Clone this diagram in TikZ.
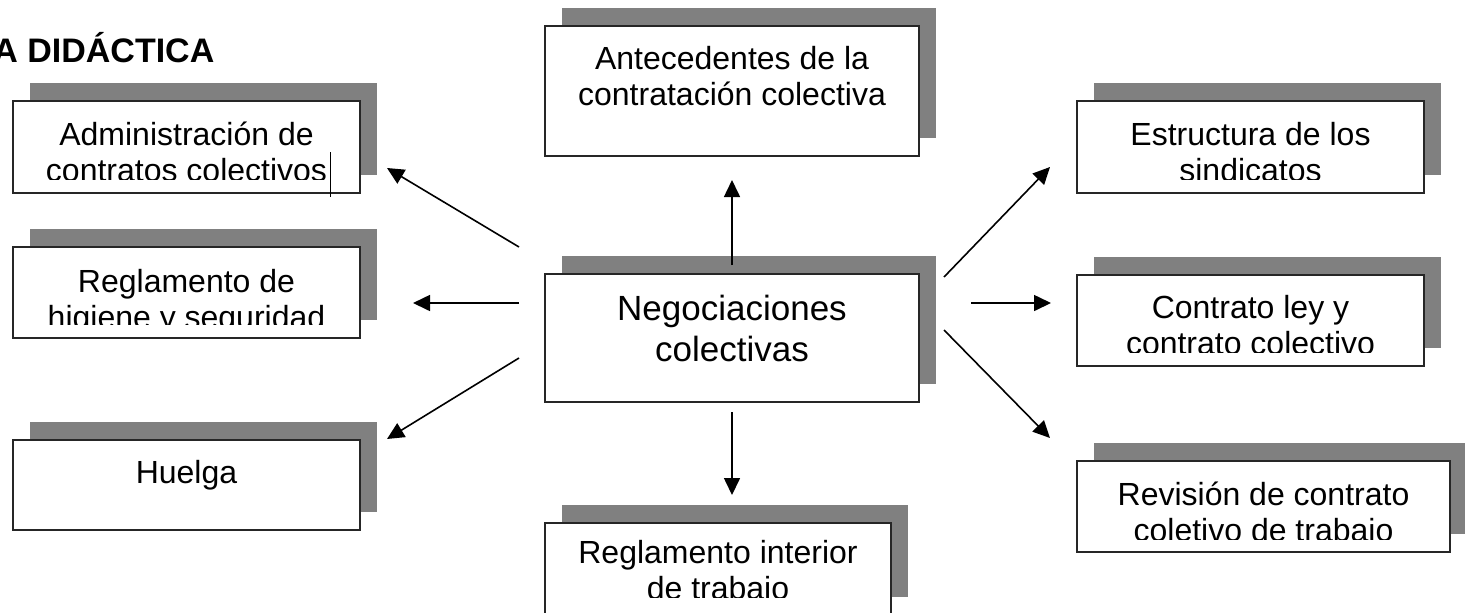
\documentclass[tikz,border=0pt]{standalone}
\usepackage{fontspec}
\setmainfont{Liberation Sans}
\usetikzlibrary{arrows.meta}
\definecolor{shadowgray}{RGB}{128,128,128}
\tikzset{
  boxframe/.style={draw=black!85, line width=0.7pt, fill=white, inner sep=0pt, outer sep=0pt, anchor=north west},
  boxshadow/.style={fill=shadowgray},
  boxtext/.style={inner sep=0pt, align=center, anchor=base, font=\fontsize{16}{18}\selectfont},
  bigtext/.style={inner sep=0pt, align=center, anchor=base, font=\fontsize{17.5}{20.5}\selectfont},
  arr/.style={-{Triangle[length=8.5pt,width=8pt]}, line width=0.8pt, black},
}
% #6 = baseline of the last text line, #7 = lower edge of the visible text
\newcommand{\shbox}[9]{%
  \fill[boxshadow] (#2+17,#3-18) rectangle (#2+#4+17,#3+#5-18);
  \node[boxframe, minimum width=#4*0.5pt, minimum height=#5*0.5pt] (#1) at (#2,#3) {};
  \begin{scope}
    \clip (#2,#3) rectangle (#2+#4,#7);
    \node[#9] (#1-text) at (#2+#4/2,#6) {#8};
  \end{scope}}
\begin{document}
\begin{tikzpicture}[x=0.5pt,y=-0.5pt]
\useasboundingbox (0,0) rectangle (1465,612);
\clip (0,0) rectangle (1465,612);
\node[anchor=base west, inner sep=0pt, font=\bfseries\fontsize{17}{20}\selectfont] (title) at (-7,62) {A DIDÁCTICA};
\shbox{adm}{13}{101}{347}{92}{181}{179}{Administración de\\contratos colectivos}{boxtext}
\shbox{hig}{13}{247}{347}{91}{328}{324}{Reglamento de\\higiene y seguridad}{boxtext}
\shbox{hue}{13}{440}{347}{90}{483}{530}{Huelga}{boxtext}
\shbox{ant}{545}{26}{374}{130}{105}{156}{Antecedentes de la\\contratación colectiva}{boxtext}
\shbox{neg}{545}{274}{374}{128}{361}{402}{Negociaciones\\colectivas}{bigtext}
\shbox{int}{545}{523}{346}{92}{599}{597}{Reglamento interior\\de trabajo}{boxtext}
\shbox{est}{1077}{101}{347}{92}{181}{179}{Estructura de los\\sindicatos}{boxtext}
\shbox{con}{1077}{275}{347}{91}{354}{352}{Contrato ley y\\contrato colectivo}{boxtext}
\shbox{rev}{1077}{461}{373}{91}{541}{539}{Revisión de contrato\\coletivo de trabajo}{boxtext}
\draw[line width=0.5pt] (330,152) -- (330,197);
% arrow end points
\coordinate (upS) at (732,265);  \coordinate (upE) at (732,180);
\coordinate (dnS) at (732,412);  \coordinate (dnE) at (732,495);
\coordinate (luS) at (519,247);  \coordinate (luE) at (387,168);
\coordinate (lmS) at (519,303);  \coordinate (lmE) at (413,303);
\coordinate (llS) at (519,358);  \coordinate (llE) at (387,439);
\coordinate (ruS) at (944,277);  \coordinate (ruE) at (1050,167);
\coordinate (rmS) at (971,303);  \coordinate (rmE) at (1051,303);
\coordinate (rlS) at (944,330);  \coordinate (rlE) at (1050,438);
\draw[arr] (upS) -- (upE);
\draw[arr] (dnS) -- (dnE);
\draw[arr] (luS) -- (luE);
\draw[arr] (lmS) -- (lmE);
\draw[arr] (llS) -- (llE);
\draw[arr] (ruS) -- (ruE);
\draw[arr] (rmS) -- (rmE);
\draw[arr] (rlS) -- (rlE);
\end{tikzpicture}
\end{document}
